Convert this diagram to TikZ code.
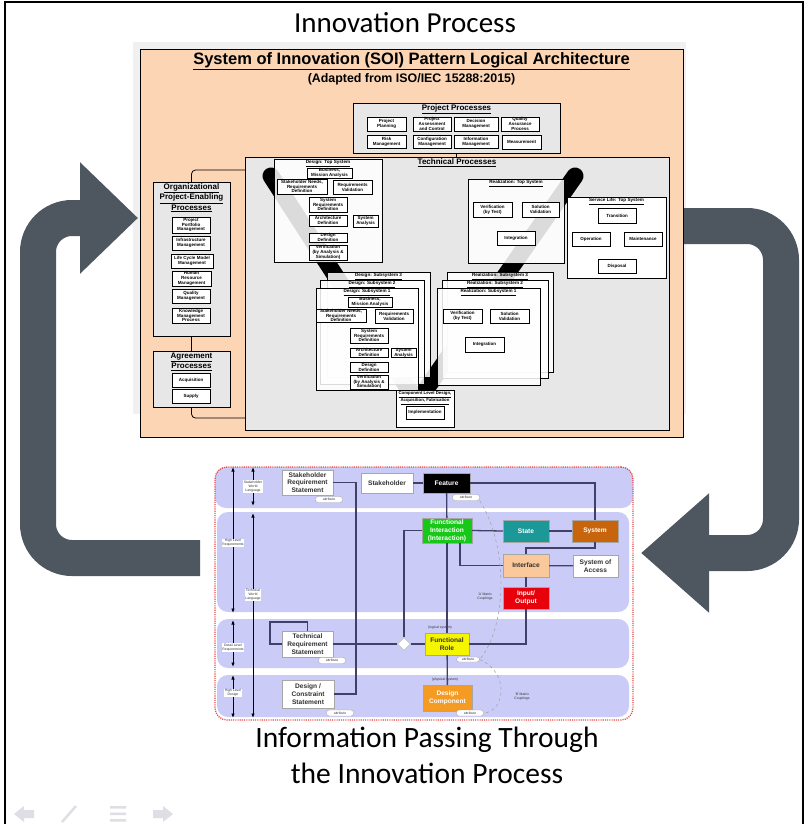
\documentclass[tikz,border=0pt]{standalone}
\usepackage{fontspec}
\setmainfont{Liberation Sans}
\newfontfamily\slidefont{Carlito}
\usetikzlibrary{shapes.geometric, arrows.meta, positioning, fit, calc}

\definecolor{soiorange}{RGB}{252,213,181}
\definecolor{procgray}{RGB}{231,231,231}
\definecolor{loopgray}{RGB}{78,86,96}
\definecolor{lanecol}{RGB}{203,203,247}
\definecolor{linknavy}{RGB}{64,64,104}
\definecolor{txtgray}{RGB}{50,50,50}
\definecolor{dotred}{RGB}{232,72,72}
\definecolor{navgray}{RGB}{222,222,228}
\definecolor{fgreen}{RGB}{24,200,24}
\definecolor{fteal}{RGB}{28,152,152}
\definecolor{fbrown}{RGB}{200,100,12}
\definecolor{fpeach}{RGB}{250,200,155}
\definecolor{fred}{RGB}{232,0,10}
\definecolor{fyellow}{RGB}{245,245,0}
\definecolor{forange}{RGB}{245,154,34}

\newcommand{\archfont}{\bfseries\fontsize{4.5}{4.8}\selectfont}
\newcommand{\grpfont}{\bfseries\fontsize{8}{9}\selectfont}
\newcommand{\procfont}{\bfseries\fontsize{4.6}{5}\selectfont}
\newcommand{\mmfont}{\bfseries\fontsize{6.6}{7.8}\selectfont}
\newcommand{\notefont}{\fontsize{3.4}{3.9}\selectfont}
\newcommand{\ul}[1]{\underline{#1}}

\begin{document}
\begin{tikzpicture}[x=1pt, y=-1pt,
  sz/.style 2 args={minimum width=#1, minimum height=#2},
  archbox/.style={draw, fill=white, line width=0.7, align=center, inner sep=0, outer sep=0, font=\archfont},
  grpbox/.style={draw, fill=procgray, line width=0.8, inner sep=0, outer sep=0},
  grptitle/.style={font=\grpfont, align=center, inner sep=0.5},
  procbox/.style={draw, line width=0.8, fill=white, fill opacity=0.86, inner sep=0, outer sep=0},
  proctitle/.style={font=\procfont, align=center, inner sep=0.3},
  vband/.style={line width=17, line cap=round, line join=round},
  link/.style={line width=0.8, rounded corners=4},
  bigloop/.style={draw=loopgray, line width=36, rounded corners=34},
  lane/.style={fill=lanecol, rounded corners=11, inner sep=0, outer sep=0},
  mbox/.style={draw=gray!70, line width=0.5, fill=#1, align=center, inner sep=0, outer sep=0, font=\mmfont},
  mbox/.default=white,
  attr/.style={draw=gray!70, fill=white, rounded corners=2.5, line width=0.4, font=\notefont, text=txtgray, inner sep=0, sz={27}{6}},
  sidelbl/.style={fill=white, font=\notefont, align=center, inner sep=0.8, text=txtgray},
  mnote/.style={font=\notefont, align=center, text=txtgray, inner sep=0},
  link2/.style={draw=linknavy, line width=1.3},
  larrow/.style={<->, >={Latex[length=4.5pt,width=3.5pt]}, line width=1},
  mcurve/.style={dashed, draw=gray!70, line width=0.6},
]
\useasboundingbox (0,0) rectangle (807,824);

% slide frame and titles
\draw[line width=1.2] (5,824) -- (5,2) -- (803,2) -- (803,824);
\node[font=\slidefont\fontsize{29}{34}\selectfont] (maintitle) at (405,23) {Innovation Process};
\node[font=\slidefont\fontsize{29.5}{36}\selectfont, align=center] (bottitle) at (427,755) {Information Passing Through\\the Innovation Process};

% shadow of the pasted picture
\fill[gray!12] (133,42) rectangle (686,414);

% loop arrows
\coordinate (lps) at (200,558);
\coordinate (lpa) at (38,558);
\coordinate (lpb) at (38,218);
\coordinate (lpe) at (138,218);
\draw[bigloop, -{Triangle[length=58pt,width=108pt]}] (lps) -- (lpa) -- (lpb) -- (lpe);
\coordinate (rps) at (680,226);
\coordinate (rpa) at (781,226);
\coordinate (rpb) at (781,553);
\coordinate (rpe) at (641,553);
\draw[bigloop, -{Triangle[length=68pt,width=115pt]}] (rps) -- (rpa) -- (rpb) -- (rpe);

% SOI logical architecture
\node[draw, fill=soiorange, line width=0.9, sz={543}{388}, inner sep=0] (soi) at (411.5,243) {};
\node[font=\bfseries\fontsize{16.5}{18}\selectfont] (soititle) at (411.5,61) {\ul{System of Innovation (SOI) Pattern Logical Architecture}};
\node[font=\bfseries\fontsize{12.4}{14}\selectfont] (soisub) at (411.5,79) {(Adapted from ISO/IEC 15288:2015)};

% Project processes
\node[grpbox, sz={207}{50}] (projp) at (456.5,128) {};
\node[grptitle, below=1pt of projp.north] {\ul{Project Processes}};
\node[archbox, sz={39}{14}] (pplan) at (386.5,124) {Project\\Planning};
\node[archbox, sz={38}{14}] (passc) at (432,124) {Project\\Assessment\\and Control};
\node[archbox, sz={44}{14}] (pdec) at (476,124) {Decision\\Management};
\node[archbox, sz={38}{14}] (pqap) at (520,124) {Quality\\Assurance\\Process};
\node[archbox, sz={39}{13}] (prisk) at (386.5,141.5) {Risk\\Management};
\node[archbox, sz={38}{13}] (pconf) at (432,141.5) {Configuration\\Management};
\node[archbox, sz={44}{13}] (pinfo) at (476,141.5) {Information\\Management};
\node[archbox, sz={39}{14}] (pmeas) at (521.5,142) {Measurement};

% Technical processes
\node[grpbox, sz={424}{273}] (techp) at (457,293.5) {};
\node[grptitle, below=1.5pt of techp.north] {\ul{Technical Processes}};
\draw[link] (projp.south) -- (projp.south |- techp.north);

% Organizational project-enabling processes
\node[grpbox, sz={77}{154}] (orgp) at (191.5,259) {};
\node[grptitle, below=1pt of orgp.north] {\ul{Organizational}\\\ul{Project-Enabling}\\\ul{Processes}};
\node[archbox, sz={38}{16}] (ppm) at (191,225) {Project\\Portfolio\\Management};
\node[archbox, sz={38}{14}] (infm) at (191,243) {Infrastructure\\Management};
\node[archbox, sz={42}{14}] (lcmm) at (192,261) {Life Cycle Model\\Management};
\node[archbox, sz={39}{15}] (hrm) at (191.5,278.5) {Human\\Resource\\Management};
\node[archbox, sz={38}{14}] (qm) at (191,296) {Quality\\Management};
\node[archbox, sz={38}{15}] (kmp) at (191,315.5) {Knowledge\\Management\\Process};

% Agreement processes
\node[grpbox, sz={77}{56}] (agrp) at (191.5,379) {};
\node[grptitle, below=1pt of agrp.north] {\ul{Agreement}\\\ul{Processes}};
\node[archbox, sz={38}{14}] (acq) at (191,380) {Acquisition};
\node[archbox, sz={38}{14}] (sup) at (191,396) {Supply};

\coordinate (tjoin1) at (245,170);
\coordinate (tjoin2) at (245,418);
\draw[link] (orgp.north) |- (tjoin1);
\draw[link] (orgp.south) -- (agrp.north);
\draw[link] (agrp.south) |- (tjoin2);

% the V
\coordinate (vtl) at (271,176);
\coordinate (vbot) at (417,402);
\coordinate (vtr) at (575,176);
\draw[vband] (vtl) -- (vbot) -- (vtr);

% Design: top system
\node[procbox, sz={108}{103}] (dtop) at (328,210.5) {};
\node[proctitle, below=0.8pt of dtop.north] {\ul{Design: Top System}};
\node[archbox, sz={45}{10}] (dbma) at (329.5,173) {Business,\\Mission Analysis};
\node[archbox, sz={50}{15}] (dsnr) at (302,186.5) {Stakeholder Needs,\\Requirements\\Definition};
\node[archbox, sz={39}{14}] (drv) at (352.5,187) {Requirements\\Validation};
\node[archbox, sz={38}{15}] (dsrd) at (328,204.5) {System\\Requirements\\Definition};
\node[archbox, sz={38}{11}] (dad) at (328,220.5) {Architecture\\Definition};
\node[archbox, sz={25}{12}] (dsa) at (365.5,221) {System\\Analysis};
\node[archbox, sz={38}{9}] (ddd) at (328,237.5) {Design\\Definition};
\node[archbox, sz={38}{15}] (dver) at (328,252.5) {Verification\\(by Analysis \&\\Simulation)};

% Design: subsystems
\node[procbox, sz={103}{105}] (dsub3) at (378.5,324.5) {};
\node[proctitle, below=0.8pt of dsub3.north] {\ul{Design: Subsystem 3}};
\node[procbox, sz={104}{104}] (dsub2) at (372,332) {};
\node[proctitle, below=0.8pt of dsub2.north] {\ul{Design: Subsystem 2}};
\node[procbox, sz={102}{102}] (dsub1) at (367,339) {};
\node[proctitle, below=0.8pt of dsub1.north] {\ul{Design: Subsystem 1}};
\node[archbox, sz={44}{10}] (sbma) at (370,302) {Business,\\Mission Analysis};
\node[archbox, sz={50}{13}] (ssnr) at (341,315.5) {Stakeholder Needs,\\Requirements\\Definition};
\node[archbox, sz={38}{14}] (srv) at (394,316) {Requirements\\Validation};
\node[archbox, sz={38}{15}] (ssrd) at (369,335.5) {System\\Requirements\\Definition};
\node[archbox, sz={38}{9}] (sad) at (369,352.5) {Architecture\\Definition};
\node[archbox, sz={25}{9}] (ssa) at (403.5,352.5) {System\\Analysis};
\node[archbox, sz={38}{10}] (sdd) at (369,367) {Design\\Definition};
\node[archbox, sz={38}{14}] (sver) at (369,382) {Verification\\(by Analysis \&\\Simulation)};

% Component level
\node[procbox, fill opacity=1, sz={58}{37}] (comp) at (425,408.5) {};
\node[proctitle, font=\bfseries\fontsize{4.3}{4.8}\selectfont, below=0.8pt of comp.north] {\ul{Component Level Design,}\\\ul{Acquisition, Fabrication}};
\node[archbox, sz={38}{13}] (impl) at (425,412.5) {Implementation};

% Realization: top system
\node[procbox, sz={96}{84}] (rtop) at (516,221) {};
\node[proctitle, below=0.8pt of rtop.north] {\ul{Realization: Top System}};
\node[archbox, sz={39}{15}] (rvt) at (492.5,209.5) {Verification\\(by Test)};
\node[archbox, sz={37}{15}] (rsv) at (540.5,209.5) {Solution\\Validation};
\node[archbox, sz={38}{14}] (rint) at (516,238) {Integration};

% Service life
\node[procbox, fill opacity=1, sz={99}{81}] (slife) at (616.5,237.5) {};
\node[proctitle, below=0.8pt of slife.north] {\ul{Service Life: Top System}};
\node[archbox, sz={38}{15}] (ltr) at (617,215.5) {Transition};
\node[archbox, sz={38}{14}] (lop) at (591,239) {Operation};
\node[archbox, sz={38}{14}] (lmt) at (643,239) {Maintenance};
\node[archbox, sz={38}{14}] (ldp) at (617,266) {Disposal};

% Realization: subsystems
\node[procbox, sz={106}{100}] (rsub3) at (500,322) {};
\node[proctitle, below=0.8pt of rsub3.north] {\ul{Realization: Subsystem 3}};
\node[procbox, sz={106}{98}] (rsub2) at (495,329) {};
\node[proctitle, below=0.8pt of rsub2.north] {\ul{Realization: Subsystem 2}};
\node[procbox, sz={103}{97}] (rsub1) at (488.5,336.5) {};
\node[proctitle, below=0.8pt of rsub1.north] {\ul{Realization: Subsystem 1}};
\node[archbox, sz={39}{14}] (svt) at (462.5,316) {Verification\\(by Test)};
\node[archbox, sz={39}{14}] (ssv) at (509.5,316) {Solution\\Validation};
\node[archbox, sz={39}{15}] (sint) at (484.5,344.5) {Integration};

% information passing view
\node[fill=white, rounded corners=12, sz={418}{253}, inner sep=0] (infobg) at (424,593.5) {};
\node[lane, sz={418}{41}] (lane1) at (424,487.5) {};
\node[lane, sz={412}{100}] (lane2) at (423,562) {};
\node[lane, sz={412}{49}] (lane3) at (423,643.5) {};
\node[lane, sz={412}{42}] (lane4) at (423,696) {};
\node[draw=dotred, dash pattern=on 1.1pt off 1.1pt, line width=1.3, rounded corners=12, sz={418}{253}, inner sep=0] (infoframe) at (424,593.5) {};

% left scale arrows
\coordinate (lhrt) at (233,467); \coordinate (lhrb) at (233,613);
\coordinate (ldrt) at (233,620); \coordinate (ldrb) at (233,667);
\coordinate (lhdt) at (233,675); \coordinate (lhdb) at (233,718);
\coordinate (lsmt) at (253,467); \coordinate (lsmb) at (253,506);
\coordinate (ltmt) at (253,513); \coordinate (ltmb) at (253,718);
\draw[larrow] (lhrt) -- node[sidelbl, pos=0.52] {High Level\\Requirements} (lhrb);
\draw[larrow] (ldrt) -- node[sidelbl, pos=0.58] {Detail Level\\Requirements} (ldrb);
\draw[larrow] (lhdt) -- node[sidelbl, pos=0.42] {High Level\\Design} (lhdb);
\draw[larrow] (lsmt) -- node[sidelbl] {Stakeholder\\World\\Language} (lsmb);
\draw[larrow] (ltmt) -- node[sidelbl, pos=0.4] {Technical\\World\\Language} (ltmb);

% metamodel boxes
\node[mbox, sz={51}{25}, text=txtgray] (srs) at (307.5,482.5) {Stakeholder\\Requirement\\Statement};
\node[mbox, sz={52}{20}, text=txtgray] (stk) at (387,483) {Stakeholder};
\node[mbox=black, sz={47}{20}, text=white] (feat) at (446.5,483) {Feature};
\node[mbox=fgreen, sz={50}{25}, text=white] (fint) at (447,530.5) {Functional\\Interaction\\(Interaction)};
\node[mbox=fteal, sz={46}{22}, text=white] (state) at (526,531) {State};
\node[mbox=fbrown, sz={46}{22}, text=white] (sys) at (595,531) {System};
\node[mbox=fpeach, sz={46}{23}, text=txtgray] (intf) at (526,565.5) {Interface};
\node[mbox, sz={45}{22}, text=txtgray] (soa) at (595.5,566) {System of\\Access};
\node[mbox=fred, sz={46}{22}, text=white] (io) at (526,598) {Input/\\Output};
\node[mbox=fyellow, sz={44}{22}, text=txtgray] (frole) at (447,644) {Functional\\Role};
\node[diamond, draw=gray!70, fill=white, minimum size=13, inner sep=0] (dmd) at (404,644) {};
\node[mbox, sz={51}{26}, text=txtgray] (trs) at (307.5,644) {Technical\\Requirement\\Statement};
\node[mbox, sz={52}{28}, text=txtgray] (dcs) at (308,694) {Design /\\Constraint\\Statement};
\node[mbox=forange, sz={49}{26}, text=white] (dcomp) at (447.5,698) {Design\\Component};

% attribute tags and notes
\node[attr] (srstag) at (329,499.5) {attribute};
\node[attr] (feattag) at (466,497.5) {attribute};
\node[attr] (trstag) at (332,660.5) {attribute};
\node[attr, sz={23}{5}] (frtag) at (468,659.5) {attribute};
\node[attr] (dcstag) at (340,713) {attribute};
\node[attr] (dctag) at (470,713) {attribute};
\node[mnote] (lognote) at (440,628) {(logical system)};
\node[mnote] (phynote) at (445,680) {(physical system)};
\node[mnote] (anote) at (485,597) {'A' Matrix\\Couplings};
\node[mnote] (bnote) at (522,697) {'B' Matrix\\Couplings};

% metamodel relations
\coordinate (srsturn) at (356,590);
\draw[link2] (srs.east) -| (srsturn) |- (dcs.east);
\draw[link2] (stk) -- (feat);
\draw[link2] (feat.east) -| (sys.north);
\draw[link2] (feat) -- (fint);
\draw[link2] (fint) -- (frole);
\draw[link2] (frole) -- (dcomp);
\draw[link2] (fint.west) -| (dmd.north);
\draw[link2] (trs.east) -- (dmd.west);
\draw[link2] (dmd.east) -- (frole.west);
\draw[link2] (fint.east) -- (state.west);
\draw[link2] (state) -- (sys);
\draw[link2] (sys.south) -- ++(0,6) -| (intf.north);
\draw[link2] ([xshift=13pt]fint.south) |- (intf.west);
\draw[link2] (intf) -- (soa);
\draw[link2] (intf) -- (io);
\draw[link2] (io.south) |- (frole.east);
\draw[link2] (trs.west) -- ++(-12,0) |- ([yshift=9pt]trs.north) -- (trs.north);
\draw[mcurve] (feattag.south east) .. controls (508,545) and (508,625) .. (frtag.east);
\draw[mcurve] (frtag.east) .. controls (510,672) and (505,712) .. (dctag.east);

% slide navigation
\fill[navgray] (14,814) -- (24,806) -- (24,810) -- (34,810) -- (34,818) -- (24,818) -- (24,822) -- cycle;
\draw[navgray, line width=2.5] (62,822) -- (76,806);
\fill[navgray] (110,806) rectangle (126,808.5) (110,812.5) rectangle (126,815) (110,819) rectangle (126,821.5);
\fill[navgray] (173,814) -- (163,806) -- (163,810) -- (153,810) -- (153,818) -- (163,818) -- (163,822) -- cycle;
\end{tikzpicture}
\end{document}
